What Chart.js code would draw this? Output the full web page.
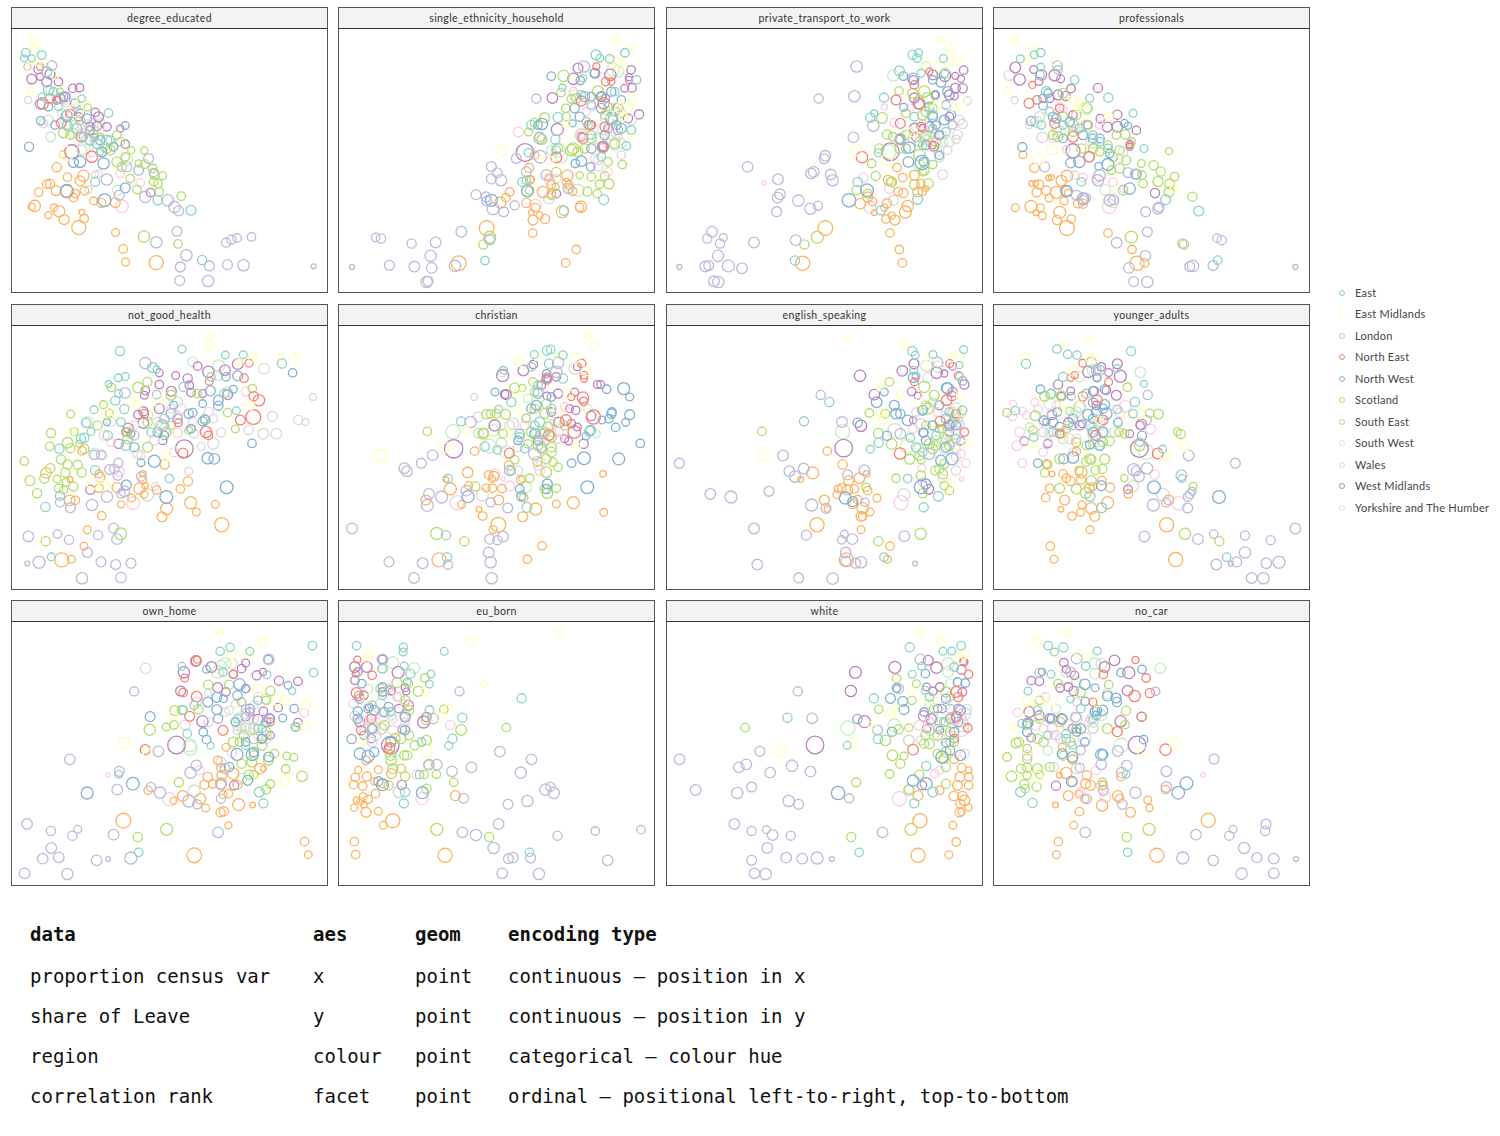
<!DOCTYPE html>
<html>
<head>
<meta charset="utf-8">
<title>Leave share by census variable</title>
<script src="https://cdn.jsdelivr.net/npm/chart.js@4"></script>
<style>
  html, body { margin: 0; padding: 0; background: #fff; }
  body { position: relative; width: 1500px; height: 1136px; overflow: hidden; }
  .strip { position: absolute; box-sizing: border-box; height: 21px; background: #f3f3f3; border: 1px solid #555; border-bottom: 0;
           font: 10.5px Lato, sans-serif; letter-spacing: 0.4px; color: #333; text-align: center; line-height: 21px; }
  .panel { position: absolute; box-sizing: border-box; border: 1px solid #555; border-top: 1px solid #333; background: #fff; }
  .panel canvas { position: absolute; left: -1px; top: -1px; display: block; }
  .legend-key { position: absolute; box-sizing: border-box; width: 6px; height: 6px; border-radius: 50%; border: 1px solid; }
  .legend-label { position: absolute; font: 11px Lato, sans-serif; letter-spacing: 0.25px; color: #444; line-height: 14px; white-space: nowrap; }
  .cell { position: absolute; font: 19px "DejaVu Sans Mono", monospace; color: #111; line-height: 24px; white-space: pre; }
</style>
</head>
<body>
<script>
// Regions and their colours (Set3)
const regions = ['East', 'East Midlands', 'London', 'North East', 'North West', 'Scotland', 'South East', 'South West', 'Wales', 'West Midlands', 'Yorkshire and The Humber'];
const regionKeys = ['E', 'EM', 'L', 'NE', 'NW', 'S', 'SE', 'SW', 'W', 'WM', 'YH'];
const regionColours = ['#8dd3c7', '#ffffb3', '#bebada', '#fb8072', '#80b1d3', '#fdb462', '#b3de69', '#fccde5', '#d9d9d9', '#bc80bd', '#ccebc5'];

const facetNames = ['degree_educated', 'single_ethnicity_household', 'private_transport_to_work', 'professionals', 'not_good_health', 'christian', 'english_speaking', 'younger_adults', 'own_home', 'eu_born', 'white', 'no_car'];

// Rows are [x reading, y reading, size reading], read per facet off the picture.
// Each facet has free scales, so the reading ranges differ (see facetXRange / facetYRange).
const degree_educated = {
  E: [[77,158,12],[125,165,12],[72,175,10],[95,175,10],[140,215,14],[145,270,14],[125,290,10],[325,339,12],[200,345,14],[160,275,12],[245,295,10],[230,385,14],[320,420,14],[285,545,13],[472,600,13],[572,630,14],[605,779,13],[270,420,14],[300,455,10],[200,375,13],[250,410,12],[290,430,14],[330,420,12],[175,320,11]],
  EM: [[98,120,10],[104,147,12],[90,271,10],[165,225,12],[110,185,10],[230,330,20],[245,300,14],[200,460,20],[135,190,12],[85,200,10]],
  L: [[155,197,14],[445,475,14],[415,510,14],[460,517,12],[320,538,16],[435,590,16],[502,600,16],[522,620,16],[535,632,14],[530,693,14],[468,726,16],[558,765,16],[540,800,14],[627,797,14],[681,793,14],[729,795,16],[538,841,14],[623,842,16],[677,727,13],[693,718,13],[710,713,12],[753,710,12],[939,798,7],[357,585,14],[380,500,14]],
  NE: [[128,310,16],[150,295,13],[120,200,10],[183,369,14],[243,410,14],[275,470,16],[210,340,12],[170,300,10]],
  NW: [[87,440,13],[375,376,11],[122,362,12],[120,312,14],[165,375,12],[240,485,16],[220,487,14],[310,490,16],[200,572,18],[313,600,18],[375,563,14],[145,320,12],[200,348,16],[170,300,12],[270,390,12],[305,455,14],[240,340,12],[190,290,12],[225,310,13],[260,355,13],[300,420,13],[340,440,12]],
  S: [[188,463,10],[170,501,13],[202,531,12],[250,527,16],[240,542,14],[140,552,12],[150,551,13],[168,571,14],[200,574,18],[225,580,12],[220,592,12],[253,572,12],[116,576,12],[95,620,10],[104,617,16],[162,622,10],[177,633,16],[145,645,10],[192,658,14],[245,636,8],[252,655,12],[236,682,20],[280,602,11],[303,608,13],[345,607,14],[346,697,11],[369,746,12],[376,785,11],[468,787,20]],
  SE: [[432,451,10],[415,490,10],[433,492,12],[457,505,12],[462,522,14],[487,527,11],[473,550,12],[460,545,12],[477,575,12],[410,568,12],[543,588,12],[431,709,16],[533,731,12],[350,485,14],[365,500,13],[393,450,10],[350,405,12],[360,425,12],[190,398,14],[262,322,10],[180,275,10],[330,450,14],[375,470,12],[390,535,12],[210,405,12],[300,410,10],[240,360,13],[280,400,12],[320,445,13]],
  SW: [[365,618,18],[420,548,12],[360,520,12],[260,370,10],[295,520,10],[230,320,10],[200,310,10],[275,460,10],[190,360,10],[280,425,10],[255,400,10],[215,340,11],[245,375,11],[300,395,11]],
  W: [[85,300,10],[152,410,14],[130,370,12],[145,360,14],[285,523,10],[265,568,10],[245,450,14],[220,375,12],[240,400,12],[185,340,12]],
  WM: [[83,200,10],[115,207,13],[95,237,14],[120,230,10],[150,222,14],[140,245,14],[238,263,12],[218,265,12],[180,295,14],[195,290,14],[285,337,12],[295,350,14],[290,378,13],[320,380,12],[283,412,10],[215,455,20],[375,432,12],[451,577,12],[360,385,10],[175,245,12],[235,350,12],[270,380,12]],
  YH: [[352,570,14],[205,380,14],[250,445,18],[380,478,16],[280,370,14],[240,340,12],[300,370,14],[200,300,12],[150,270,12],[220,400,14],[260,420,14],[310,440,13]]
};

const single_ethnicity_household = {
  E: [[774,80,14],[786,90,11],[815,92,12],[861,74,12],[896,155,12],[673,178,10],[735,150,10],[660,267,14],[580,290,13],[652,333,13],[655,365,12],[571,373,12],[553,460,13],[797,513,14],[441,695,12],[678,546,13],[565,455,12],[825,275,14],[865,352,12],[880,305,12],[730,200,12],[830,190,12],[760,320,12],[760,230,12],[810,235,12],[840,305,13],[790,385,12],[745,280,12]],
  EM: [[832,36,10],[878,62,12],[818,97,12],[838,100,12],[853,112,13],[491,365,16],[880,213,13],[868,237,16],[845,240,14],[880,320,12],[630,395,14],[685,285,12],[830,235,14],[855,265,12],[815,260,12]],
  L: [[738,115,16],[595,211,13],[535,390,14],[607,385,18],[460,414,14],[478,433,14],[460,451,14],[489,455,16],[414,498,14],[444,505,14],[446,517,14],[465,540,17],[497,549,14],[530,530,13],[565,430,14],[625,439,15],[370,609,15],[293,641,15],[221,644,13],[113,626,12],[129,629,13],[278,681,16],[154,709,14],[229,713,15],[281,717,15],[266,759,16],[270,757,14],[351,711,16],[42,714,7],[455,633,14],[690,480,14],[605,330,16]],
  NE: [[775,115,10],[803,160,12],[730,218,14],[797,225,16],[755,290,14],[800,295,13],[735,330,14],[655,387,15],[795,355,14],[820,160,10]],
  NW: [[640,144,12],[727,157,12],[771,135,14],[820,190,13],[740,205,14],[790,205,12],[710,240,13],[725,265,13],[612,287,16],[704,285,10],[820,270,16],[850,300,14],[795,355,16],[730,398,15],[712,405,12],[758,415,12],[568,488,16],[460,515,17],[600,290,12],[850,215,12],[790,240,14],[760,360,13],[830,250,13],[760,205,12],[800,320,13]],
  S: [[573,418,13],[575,455,12],[579,452,10],[590,380,12],[632,447,10],[640,468,12],[688,441,16],[686,462,12],[693,470,12],[615,490,16],[640,495,12],[704,488,12],[515,490,12],[504,507,12],[487,522,16],[565,523,13],[593,537,12],[580,552,8],[605,560,10],[585,574,14],[621,571,13],[673,549,17],[729,534,16],[725,536,12],[584,613,12],[446,598,21],[362,703,21],[683,702,12],[715,662,12]],
  SE: [[677,143,16],[669,193,12],[700,212,12],[780,190,16],[715,210,14],[683,240,12],[685,265,12],[620,268,14],[590,283,12],[572,311,11],[605,325,14],[612,333,14],[705,360,16],[720,370,14],[760,445,12],[725,440,10],[810,400,12],[853,408,12],[785,467,12],[813,466,14],[800,442,12],[748,489,13],[778,495,12],[655,430,13],[653,475,10],[575,485,12],[455,625,17],[436,647,13],[750,290,12],[830,345,14],[700,365,16],[660,360,13],[640,500,12],[760,330,13],[800,260,12],[850,255,12],[740,360,13]],
  SW: [[541,311,14],[708,200,14],[592,530,17],[635,455,14],[656,450,12],[810,430,12],[770,390,12],[780,415,12],[840,325,12],[800,270,12],[730,320,14],[760,235,12],[820,320,12],[790,360,12],[745,250,11]],
  W: [[633,510,15],[695,480,13],[640,365,14],[730,315,14],[780,330,16],[830,350,15],[780,395,13],[850,380,12],[880,275,14],[820,290,16],[835,315,14]],
  WM: [[720,120,14],[706,152,16],[770,135,12],[817,140,16],[879,125,12],[873,147,10],[873,155,10],[882,179,12],[860,180,11],[643,209,15],[790,205,14],[803,210,11],[870,270,13],[903,258,13],[658,303,17],[795,355,11],[655,495,12],[561,372,25],[730,325,12],[835,290,13],[840,240,14],[760,290,12],[810,300,12]],
  YH: [[840,130,16],[825,125,18],[660,365,20],[670,385,17],[720,485,17],[795,300,16],[730,320,18],[790,330,16],[850,345,14],[830,240,14],[455,630,16],[706,190,12]]
};

const private_transport_to_work = {
  E: [[740,80,13],[758,74,11],[753,90,12],[832,91,11],[700,128,14],[765,135,11],[654,208,13],[625,255,10],[613,268,13],[575,460,13],[637,373,11],[703,330,14],[387,695,13],[645,545,13],[755,512,14],[835,135,12],[800,260,13],[720,360,13],[800,300,12],[840,310,12],[770,350,12],[745,265,12]],
  EM: [[824,36,10],[852,62,12],[853,98,12],[877,99,11],[775,100,12],[570,365,16],[660,395,16],[888,238,15],[815,230,12],[860,235,11],[822,115,13],[740,310,14]],
  L: [[572,115,16],[565,204,16],[458,211,13],[562,327,15],[622,292,16],[478,382,15],[475,391,14],[245,415,15],[443,430,15],[435,435,15],[494,438,15],[500,455,16],[336,452,15],[342,497,15],[335,507,15],[397,516,16],[456,531,13],[433,540,16],[332,549,14],[138,609,15],[124,629,13],[172,626,11],[162,644,13],[264,641,15],[389,634,15],[156,681,16],[118,713,15],[128,710,14],[187,711,17],[228,718,15],[144,757,15],[157,759,16],[40,714,7],[860,290,12]],
  NE: [[690,215,14],[758,225,16],[703,285,14],[703,333,14],[588,386,16],[790,130,10],[745,170,12],[765,295,12],[800,350,10]],
  NW: [[712,144,12],[742,152,16],[800,155,12],[825,162,14],[845,190,14],[808,200,12],[713,237,11],[760,228,14],[800,265,14],[835,275,14],[855,260,13],[730,357,16],[727,400,15],[768,402,20],[772,400,12],[549,515,19],[603,485,18],[820,380,12],[700,333,12],[810,290,12],[780,350,13],[820,320,13],[840,230,12],[790,235,13]],
  S: [[693,417,12],[710,447,12],[745,440,14],[667,455,14],[765,465,12],[697,489,12],[712,493,13],[755,490,14],[769,488,12],[780,480,8],[583,525,15],[605,505,14],[620,519,12],[625,552,8],[663,524,13],[655,537,10],[677,561,10],[660,571,12],[687,574,14],[718,550,17],[725,532,16],[672,613,12],[700,662,12],[709,702,12],[478,598,21],[410,703,20]],
  SE: [[699,188,12],[740,195,14],[775,190,16],[785,210,16],[780,250,14],[648,269,15],[663,318,13],[680,325,12],[700,360,13],[720,360,13],[617,405,12],[629,442,13],[675,460,13],[677,460,14],[787,465,14],[572,484,13],[605,495,13],[770,430,12],[800,408,12],[775,425,14],[745,468,14],[454,625,17],[415,647,13],[640,360,13],[760,380,16],[780,320,14],[720,255,12],[770,260,14],[810,340,13],[720,320,13],[760,340,13],[800,240,13]],
  SW: [[655,236,9],[592,447,13],[295,463,6],[830,438,14],[685,283,12],[735,238,10],[670,480,14],[612,535,17],[770,290,14],[740,330,14],[800,340,12],[830,320,11]],
  W: [[905,217,11],[880,275,14],[890,287,13],[875,318,13],[870,333,12],[845,365,12],[682,515,14],[850,340,14],[790,325,14],[820,385,14],[775,330,14]],
  WM: [[742,155,12],[745,209,14],[800,140,14],[837,143,16],[868,143,10],[893,126,12],[885,152,10],[890,180,13],[868,180,14],[850,200,14],[865,203,11],[808,200,10],[745,300,14],[750,327,12],[803,353,14],[673,370,25],[850,265,12],[790,295,14],[820,320,12],[770,300,11]],
  YH: [[682,142,16],[780,115,13],[840,135,14],[670,370,20],[790,215,14],[780,335,14],[830,340,14],[760,410,16],[815,370,12],[800,310,14],[750,295,13]]
};

const professionals = {
  E: [[143,74,12],[124,80,11],[82,92,11],[143,117,11],[195,125,12],[245,155,12],[290,210,11],[346,208,13],[420,255,11],[453,360,11],[518,513,14],[617,547,14],[674,694,12],[265,460,12],[145,290,12],[140,140,13],[160,190,14],[320,340,12],[170,250,12],[210,290,12],[260,300,13],[300,320,12],[345,360,12]],
  EM: [[65,36,10],[121,64,12],[104,93,10],[187,100,13],[42,187,10],[177,365,15],[137,392,16],[545,478,12],[270,225,14],[240,215,12],[347,265,12],[255,240,10]],
  L: [[193,113,14],[155,415,14],[320,440,16],[315,455,16],[250,500,14],[350,515,16],[362,513,14],[278,508,14],[270,515,14],[495,540,15],[498,535,14],[458,549,14],[463,609,14],[371,642,15],[408,717,15],[457,681,15],[422,758,14],[463,759,16],[568,644,13],[672,628,12],[686,634,13],[600,711,16],[590,713,14],[660,710,14],[907,714,7],[427,437,14],[405,432,14]],
  NE: [[108,225,14],[132,215,12],[185,285,14],[240,325,15],[288,385,15],[118,170,10],[200,240,12],[410,350,10]],
  NW: [[88,356,13],[114,278,13],[165,195,12],[150,232,12],[210,330,12],[233,403,14],[259,400,16],[345,408,17],[317,413,11],[394,285,11],[405,292,10],[430,437,14],[410,480,16],[220,487,16],[270,510,16],[300,330,13],[350,375,12],[190,270,13],[180,265,13],[230,280,13],[270,320,13],[320,330,13],[150,210,12]],
  S: [[90,379,11],[124,418,13],[167,448,8],[175,446,8],[205,456,15],[222,442,16],[138,468,13],[128,465,8],[116,465,8],[160,486,13],[131,491,13],[190,491,17],[222,488,15],[225,492,10],[168,508,11],[213,517,11],[255,524,13],[270,525,13],[67,537,11],[114,533,17],[142,537,11],[129,552,8],[148,561,11],[200,551,17],[192,574,13],[235,571,12],[222,598,21],[345,613,12],[417,662,12],[455,702,12],[432,703,20]],
  SE: [[282,240,13],[250,260,13],[210,265,13],[210,195,14],[195,325,14],[345,350,12],[370,320,12],[397,318,13],[415,340,12],[380,365,13],[400,395,13],[445,405,11],[482,410,13],[503,429,13],[545,444,12],[447,440,12],[495,459,14],[530,466,14],[528,490,14],[528,368,10],[598,504,13],[450,465,12],[390,485,13],[415,625,17],[573,647,13],[355,425,12],[380,420,13],[300,360,13],[265,360,13],[180,320,13],[240,310,13],[280,290,14],[320,370,12],[360,385,13]],
  SW: [[270,447,12],[360,460,12],[392,480,11],[349,533,20],[200,235,12],[310,450,12],[380,390,12],[180,330,12],[320,290,12],[210,240,11],[250,300,11],[290,340,11]],
  W: [[65,216,10],[108,290,10],[148,327,15],[220,363,11],[245,440,12],[125,280,12],[140,265,14],[290,385,14],[240,290,14],[190,300,14]],
  WM: [[67,118,15],[80,154,16],[122,124,11],[145,140,15],[185,141,16],[203,152,11],[138,160,11],[234,181,12],[315,179,13],[218,203,13],[195,200,14],[373,259,13],[322,271,12],[343,296,14],[373,295,15],[430,306,12],[411,347,11],[240,367,20],[486,493,13],[285,290,12],[410,355,10],[170,210,12],[240,260,12]],
  YH: [[49,141,15],[337,484,15],[360,520,16],[280,240,18],[240,290,16],[300,345,14],[200,310,16],[130,280,16],[390,370,13]]
};

const not_good_health = {
  E: [[327,78,13],[513,72,11],[643,90,11],[697,89,11],[813,115,13],[322,158,11],[343,154,11],[293,176,9],[425,127,14],[437,133,10],[600,155,12],[323,205,11],[313,226,13],[249,253,11],[340,251,13],[518,185,13],[640,205,13],[676,256,11],[225,292,13],[240,318,11],[220,337,13],[145,370,13],[252,434,13],[475,459,12],[147,510,13],[103,544,13],[121,693,11],[420,320,12],[345,360,14],[290,330,13],[370,330,13],[460,280,13],[210,340,13],[330,290,12]],
  EM: [[594,36,10],[598,61,12],[725,97,12],[809,98,11],[852,99,13],[683,113,10],[182,320,12],[717,240,13],[360,230,12],[380,238,12],[285,265,12],[315,260,13],[440,225,16],[465,390,16],[245,475,16],[280,480,14],[430,300,12]],
  L: [[403,114,16],[342,203,15],[437,208,12],[270,388,13],[250,388,13],[322,412,13],[296,432,14],[310,430,13],[320,450,13],[288,513,16],[340,497,15],[330,505,12],[243,538,16],[178,546,14],[147,530,13],[52,632,15],[139,625,12],[174,642,13],[261,628,13],[308,607,14],[318,640,15],[229,680,14],[84,709,17],[49,713,7],[270,708,14],[314,716,14],[360,712,14],[213,757,16],[330,755,15],[480,265,14],[455,300,16],[390,453,13]],
  NE: [[714,114,11],[699,159,12],[595,168,11],[728,213,13],[744,225,16],[727,275,21],[688,284,14],[502,292,11],[585,320,16],[592,330,12],[516,383,14],[400,265,12]],
  NW: [[845,143,12],[680,152,14],[645,155,12],[598,197,14],[667,192,11],[622,225,14],[622,241,13],[488,240,11],[575,235,11],[533,265,13],[545,262,12],[583,283,13],[575,288,13],[288,290,10],[723,354,12],[430,407,17],[590,398,16],[610,400,15],[647,485,18],[466,514,18],[346,478,14],[390,412,11],[460,330,12],[370,365,13],[440,320,13],[500,280,13],[540,310,12]],
  S: [[105,442,15],[213,376,12],[264,445,11],[267,455,14],[177,462,8],[176,524,15],[193,524,12],[264,488,12],[318,486,14],[330,536,10],[362,517,11],[396,445,9],[395,462,12],[402,480,9],[385,489,16],[399,506,11],[437,493,12],[461,417,13],[508,490,12],[531,467,13],[467,549,17],[453,573,14],[539,531,17],[556,559,11],[613,536,11],[632,597,20],[272,570,12],[229,612,11],[219,661,11],[181,700,11],[152,702,20]],
  SE: [[409,170,13],[381,187,15],[301,187,12],[277,238,11],[179,266,11],[295,263,11],[120,323,13],[190,319,11],[116,363,12],[170,352,15],[178,368,13],[205,355,10],[150,402,13],[170,417,13],[200,418,13],[212,441,13],[163,441,13],[118,428,13],[100,459,13],[138,460,11],[57,465,14],[165,470,11],[187,483,13],[143,488,12],[158,493,11],[78,503,13],[40,407,12],[480,210,14],[558,205,12],[650,262,12],[533,315,11],[673,311,11],[724,190,12],[410,365,14],[350,340,14],[329,624,17],[104,646,13],[580,280,12],[465,320,14],[350,320,13],[410,290,13],[480,300,12],[220,370,13],[260,300,13]],
  SW: [[366,532,18],[500,322,13],[593,260,13],[705,198,13],[325,438,14],[390,390,12],[275,390,12],[430,345,13],[545,290,12],[510,250,14],[280,330,14],[300,350,12],[370,300,12],[500,270,12]],
  W: [[906,215,10],[862,284,13],[883,290,10],[784,273,14],[796,325,15],[757,325,15],[713,314,13],[630,321,13],[607,354,16],[571,363,11],[607,280,12],[533,437,11],[433,483,11],[410,508,17],[550,325,12],[490,380,13],[450,300,16],[440,290,14],[480,250,12]],
  WM: [[680,117,15],[642,135,15],[592,140,16],[560,123,12],[445,143,11],[494,151,11],[530,160,13],[535,180,12],[445,178,12],[540,202,12],[481,198,14],[403,196,12],[400,210,11],[445,250,14],[397,258,13],[381,268,12],[397,293,15],[352,308,14],[345,320,12],[360,326,11],[323,355,13],[520,370,25],[238,492,13],[650,208,14],[455,345,12],[575,205,11]],
  YH: [[545,110,14],[623,122,17],[759,131,15],[650,200,14],[230,290,15],[250,385,16],[480,265,14],[380,385,14],[500,230,14],[455,310,20],[620,150,14],[410,270,14],[300,290,13]]
};

const christian = {
  E: [[589,88,11],[627,76,13],[638,73,12],[675,90,12],[633,116,13],[580,125,12],[497,135,11],[675,160,13],[600,205,14],[520,230,13],[482,252,11],[369,288,13],[440,363,13],[478,373,12],[330,459,12],[520,435,12],[550,515,12],[567,545,14],[327,694,13],[605,290,14],[545,335,13],[755,318,14],[590,300,12],[640,250,13],[560,370,12],[600,180,12]],
  EM: [[750,35,10],[770,61,12],[597,95,11],[542,110,13],[712,100,14],[660,97,12],[745,138,13],[128,390,16],[318,365,16],[386,315,11],[715,365,12],[540,205,14],[690,205,14],[660,245,14],[540,250,12],[510,325,12]],
  L: [[660,113,16],[655,140,16],[398,290,16],[284,389,15],[250,413,14],[199,428,15],[207,437,15],[273,505,15],[311,514,17],[268,539,17],[42,608,15],[324,628,13],[153,708,14],[254,712,15],[330,716,13],[228,756,15],[452,680,15],[458,709,16],[461,757,16],[455,640,14],[478,643,13],[495,632,15],[509,547,14],[458,530,13],[515,435,15],[385,495,15],[590,385,17],[610,325,14],[600,200,14],[610,365,14]],
  NE: [[731,115,12],[738,150,11],[738,160,10],[626,163,13],[735,217,16],[737,228,12],[684,284,15],[766,275,20],[709,320,18],[633,329,15],[514,383,14],[700,215,10]],
  NW: [[471,200,11],[628,157,13],[806,192,12],[857,190,17],[875,215,11],[822,260,12],[820,265,13],[875,268,14],[792,284,11],[813,280,12],[863,291,11],[833,306,12],[907,354,12],[757,315,14],[744,332,11],[738,398,18],[842,400,17],[701,413,12],[748,485,18],[628,475,14],[626,490,13],[390,513,17],[545,490,12],[550,510,13],[595,240,14],[590,325,14],[545,325,13],[625,160,12],[580,250,13],[640,215,12],[600,345,13],[540,345,12]],
  S: [[410,377,12],[389,441,15],[324,462,8],[392,480,11],[337,490,17],[264,523,14],[371,536,11],[423,551,8],[434,571,12],[452,448,12],[468,452,14],[462,460,10],[445,487,11],[463,488,12],[492,489,12],[482,523,14],[547,463,11],[557,516,12],[554,573,14],[593,550,17],[655,535,11],[706,531,17],[795,445,9],[797,560,11],[481,597,21],[465,611,11],[303,702,20],[568,700,12],[612,660,12],[513,420,13]],
  SE: [[268,318,12],[379,646,13],[296,623,17],[530,188,14],[553,188,10],[585,170,12],[590,200,12],[445,267,13],[458,266,12],[495,325,12],[437,323,13],[435,325,15],[475,265,12],[565,278,12],[503,267,14],[625,235,13],[580,320,14],[570,355,12],[620,265,14],[630,305,14],[640,335,14],[640,365,14],[598,407,13],[625,400,14],[645,410,12],[660,425,12],[625,440,15],[575,458,12],[553,460,10],[530,403,12],[412,482,13],[655,488,12],[628,503,15],[620,490,13],[640,380,14],[600,360,14],[620,320,13],[590,250,13],[610,370,13],[680,300,13]],
  SW: [[357,531,20],[495,460,6],[515,481,14],[470,445,14],[605,435,14],[565,280,12],[660,320,14],[610,410,12],[680,245,12],[640,320,12],[560,300,12],[600,420,13]],
  W: [[408,215,10],[421,323,14],[433,508,17],[525,295,16],[515,300,14],[490,353,15],[540,365,13],[420,275,14],[540,435,13],[605,340,15],[620,325,14],[590,300,13],[660,340,12]],
  WM: [[556,136,15],[586,118,12],[718,125,11],[494,151,17],[505,208,14],[500,207,12],[625,145,11],[655,155,12],[778,178,11],[788,178,11],[710,200,11],[660,205,13],[627,212,11],[713,255,12],[695,250,11],[663,291,15],[760,272,13],[700,295,12],[718,305,11],[470,300,16],[692,347,11],[737,355,13],[347,370,26],[630,160,11],[610,180,12],[640,260,12],[680,340,11]],
  YH: [[493,140,14],[710,130,16],[345,319,20],[454,362,20],[505,380,18],[775,325,11],[750,250,12],[465,315,16],[640,300,16],[565,485,15],[595,325,13],[620,350,14],[570,220,13],[650,290,13]]
};

const english_speaking = {
  E: [[893,73,11],[739,78,13],[748,90,11],[801,88,11],[490,230,13],[414,288,13],[743,135,11],[880,153,10],[733,337,12],[638,352,13],[613,371,11],[750,365,13],[725,459,12],[817,512,14],[773,545,13],[654,694,12],[770,253,12],[880,120,10],[890,255,12],[810,330,12],[870,340,12],[850,260,12],[770,380,12]],
  EM: [[546,35,10],[718,61,12],[641,186,10],[703,210,11],[645,263,13],[652,282,13],[290,390,16],[612,362,12],[880,98,13],[855,98,12],[790,98,12],[853,475,13],[902,356,11],[885,210,13],[880,260,12],[760,230,12]],
  L: [[815,112,15],[464,209,13],[528,290,15],[703,325,15],[351,390,15],[790,385,16],[40,413,14],[370,437,15],[387,453,16],[413,429,15],[595,434,15],[545,448,14],[309,497,14],[133,505,15],[195,514,17],[437,538,17],[480,548,14],[597,530,12],[264,608,15],[421,628,14],[535,625,11],[527,642,12],[559,640,15],[715,631,15],[539,680,15],[274,716,15],[569,712,14],[585,709,16],[398,756,14],[500,758,16],[747,713,7],[540,705,14]],
  NE: [[851,115,11],[878,152,12],[745,170,11],[842,225,15],[858,212,13],[822,288,14],[895,320,12],[702,384,16],[870,265,12]],
  NW: [[655,200,11],[632,231,15],[685,240,14],[690,265,15],[703,265,13],[725,285,15],[575,292,13],[663,331,13],[773,322,12],[742,157,14],[750,153,11],[842,188,15],[845,190,16],[890,167,12],[825,405,15],[858,400,17],[840,365,14],[538,517,17],[560,528,14],[765,484,19],[780,475,14],[770,255,14],[850,300,14],[800,300,13],[840,280,13],[780,345,13],[870,300,13],[820,240,13]],
  S: [[484,377,12],[530,417,13],[440,442,17],[404,462,8],[602,445,9],[580,458,15],[548,465,14],[527,487,12],[517,490,11],[545,493,14],[565,490,12],[605,495,12],[513,507,11],[475,523,14],[484,550,9],[633,517,11],[575,522,12],[560,535,13],[590,548,16],[612,559,11],[585,572,14],[590,572,12],[585,612,11],[453,597,20],[672,661,12],[664,700,11],[541,702,20]],
  SE: [[670,170,12],[610,263,12],[658,265,12],[288,318,12],[637,324,14],[677,356,15],[731,401,14],[765,403,11],[775,185,16],[805,210,14],[780,240,12],[785,250,16],[780,300,12],[820,310,12],[800,370,14],[765,450,13],[690,458,12],[600,485,12],[808,435,13],[835,415,13],[830,445,14],[835,480,12],[850,495,12],[770,503,13],[637,646,13],[764,624,16],[810,360,13],[830,310,12],[870,270,14],[850,360,14],[800,300,13],[840,340,13],[790,355,14],[820,430,13],[760,390,13]],
  SW: [[705,531,20],[887,461,6],[900,413,12],[768,428,11],[830,460,12],[770,470,12],[750,260,12],[895,320,12],[870,395,13],[740,310,12],[885,385,12],[840,250,12],[860,350,12],[815,260,12]],
  W: [[714,507,17],[860,320,22],[870,290,20],[860,260,14],[885,265,12],[880,300,14],[870,435,13],[765,295,14],[835,370,14],[870,370,12],[855,300,15],[875,280,13],[845,330,14]],
  WM: [[582,152,16],[709,137,15],[744,116,14],[812,143,16],[860,123,11],[895,178,13],[625,208,15],[737,199,12],[755,211,10],[585,301,16],[741,285,10],[772,321,13],[533,368,25],[788,491,14],[885,347,11],[855,300,15],[860,200,13],[835,145,10],[860,290,13],[850,320,12]],
  YH: [[713,135,11],[782,122,16],[785,158,14],[530,319,20],[687,316,20],[724,362,20],[757,370,15],[815,125,16],[870,250,16],[810,345,14],[800,230,12],[850,280,14],[830,350,14]]
};

const younger_adults = {
  E: [[192,72,12],[224,88,12],[252,90,12],[414,78,13],[99,116,13],[372,130,11],[453,176,10],[210,155,13],[426,230,13],[67,256,12],[373,252,12],[420,265,12],[509,371,11],[326,546,14],[291,512,14],[701,694,12],[567,459,11],[122,335,12],[310,135,14],[175,205,13],[280,205,13],[240,300,12],[290,300,13],[180,320,12],[320,360,13]],
  EM: [[287,35,10],[213,61,13],[97,99,14],[289,98,12],[307,97,12],[240,137,13],[574,363,14],[515,390,14],[118,355,12],[403,280,14],[440,265,14],[205,250,12],[255,220,12],[320,285,12]],
  L: [[295,112,15],[464,209,13],[587,390,15],[727,413,14],[422,432,17],[430,436,14],[438,453,15],[462,428,16],[565,449,15],[598,497,11],[591,505,13],[585,513,13],[481,538,17],[519,530,13],[584,547,14],[454,632,15],[615,640,15],[662,625,12],[756,629,13],[833,643,13],[907,608,15],[756,680,16],[670,716,15],[731,708,14],[714,713,7],[820,712,15],[858,709,17],[776,756,15],[811,757,16],[440,350,12],[460,285,14],[320,135,14]],
  NE: [[269,114,11],[233,158,10],[245,150,10],[347,170,11],[270,213,13],[312,225,15],[330,284,14],[308,330,14],[494,384,15],[200,325,12]],
  NW: [[142,192,12],[312,157,11],[235,213,11],[303,197,13],[335,192,13],[335,238,14],[300,232,13],[153,285,13],[193,260,12],[285,268,15],[340,265,16],[375,291,12],[447,331,13],[134,413,12],[212,400,14],[240,396,16],[290,358,12],[320,360,14],[483,485,18],[678,514,18],[325,480,14],[330,320,14],[160,290,10],[300,280,13],[180,290,13],[240,280,13],[330,250,13],[310,260,14],[300,320,14]],
  S: [[164,417,12],[177,445,8],[210,445,12],[220,458,12],[232,466,13],[265,440,16],[264,462,13],[327,465,12],[351,486,13],[289,488,14],[300,483,11],[170,488,12],[158,516,12],[215,523,14],[204,551,8],[237,571,12],[263,560,11],[267,537,11],[295,548,16],[305,572,14],[344,531,17],[291,612,11],[172,661,12],[183,700,11],[406,505,12],[527,523,14],[521,597,20],[548,701,20],[250,378,12]],
  SE: [[403,186,12],[155,213,14],[172,207,13],[205,212,14],[42,262,12],[127,271,14],[230,258,11],[120,315,12],[205,325,12],[160,415,12],[155,442,12],[200,488,14],[258,435,12],[250,490,14],[278,502,15],[295,465,14],[308,433,13],[328,430,13],[335,401,14],[295,402,13],[280,408,13],[378,320,12],[395,325,12],[350,347,13],[470,264,12],[496,266,14],[553,319,11],[563,326,13],[600,482,11],[394,458,10],[576,624,16],[679,646,13],[440,360,15],[280,360,12],[250,350,13],[290,400,14],[200,400,14],[330,350,13],[220,310,12]],
  SW: [[60,235,10],[125,231,11],[88,257,11],[58,272,13],[80,320,14],[72,361,14],[88,413,12],[397,243,16],[380,262,13],[473,311,14],[135,252,12],[485,447,13],[557,533,19],[150,380,12],[230,340,14],[175,265,13],[150,290,12],[190,240,12],[250,340,13],[100,270,11]],
  W: [[150,320,13],[300,310,16],[320,290,16],[510,507,18],[300,355,14],[165,350,12],[225,300,12],[260,245,14],[240,380,12],[190,320,12],[320,300,14],[300,330,14],[170,320,13]],
  WM: [[373,116,14],[382,153,17],[195,178,13],[233,197,11],[325,125,12],[347,142,11],[286,140,16],[312,158,11],[340,195,12],[370,210,14],[205,213,11],[177,269,13],[227,292,14],[268,295,11],[200,305,13],[445,297,15],[442,300,12],[410,325,11],[94,347,12],[164,355,12],[405,491,12],[439,369,25],[300,198,13],[310,240,12],[260,300,13]],
  YH: [[442,141,15],[260,155,14],[170,235,16],[260,245,18],[460,380,21],[420,482,16],[320,285,16],[365,320,14],[110,305,12],[300,135,16],[205,210,12],[250,260,15],[210,340,14]]
};

const own_home = {
  E: [[532,76,12],[508,88,12],[580,88,11],[732,71,12],[735,152,12],[415,133,11],[622,158,11],[683,207,10],[445,250,12],[418,264,12],[428,335,12],[485,371,10],[613,544,13],[603,510,14],[262,457,11],[310,691,12],[515,150,12],[600,320,12],[690,315,12],[550,290,12],[610,320,12],[570,370,12],[600,235,12]],
  EM: [[508,33,10],[613,60,12],[573,95,11],[535,97,13],[275,363,15],[646,235,14],[665,235,13],[716,248,12],[665,474,13],[395,280,12],[715,312,12],[330,390,12],[600,200,14]],
  L: [[626,112,15],[299,208,13],[358,388,15],[143,412,15],[263,448,14],[258,503,15],[340,495,13],[362,512,16],[436,452,16],[450,430,15],[432,537,17],[452,547,13],[510,530,13],[503,631,15],[39,606,15],[97,627,13],[162,622,11],[149,641,13],[249,638,15],[98,678,15],[77,710,15],[116,706,15],[208,715,15],[236,711,7],[291,708,17],[33,754,15],[137,756,16],[570,260,12],[510,485,16],[520,440,14]],
  NE: [[450,116,14],[452,113,10],[422,168,11],[418,212,12],[451,224,15],[434,283,14],[326,383,14],[515,325,14],[630,300,11],[540,157,11]],
  NW: [[475,142,11],[540,157,12],[555,187,16],[500,226,14],[478,240,14],[516,230,11],[500,263,14],[503,290,13],[338,284,14],[467,330,12],[688,260,12],[660,288,11],[627,290,14],[673,190,11],[570,200,12],[625,113,12],[475,353,12],[549,397,17],[586,398,17],[626,405,14],[570,360,12],[296,485,18],[185,513,17],[575,475,14],[530,435,13],[610,350,12],[550,220,13],[580,260,13],[545,300,12],[620,300,13],[590,390,13]],
  S: [[522,376,11],[502,415,12],[510,438,12],[540,455,16],[605,440,15],[613,440,8],[478,465,13],[470,488,13],[490,486,12],[512,460,14],[515,518,11],[528,515,12],[510,488,14],[333,505,12],[395,536,10],[417,522,15],[460,530,15],[473,558,11],[509,571,13],[517,568,13],[553,548,17],[587,549,8],[528,610,10],[273,596,21],[445,700,21],[713,659,12],[722,698,11],[550,488,13]],
  SE: [[398,266,14],[415,264,13],[377,315,11],[396,309,12],[337,323,16],[479,188,13],[455,262,13],[530,188,13],[630,207,13],[620,235,12],[590,350,14],[540,360,14],[670,402,11],[687,406,11],[667,441,12],[707,463,15],[630,486,12],[620,502,13],[590,458,12],[578,458,13],[585,420,14],[560,425,13],[555,360,12],[408,481,13],[378,622,17],[308,645,13],[693,315,12],[640,395,12],[625,415,14],[565,340,13],[610,370,14],[620,330,13],[590,400,13],[560,240,12]],
  SW: [[712,272,12],[423,309,14],[450,240,14],[235,459,6],[536,392,13],[458,445,13],[385,532,19],[600,225,13],[560,240,12],[520,270,12],[590,250,12],[545,245,11],[610,290,12]],
  W: [[445,507,17],[478,212,10],[570,320,16],[560,285,15],[590,320,16],[620,350,14],[570,275,14],[510,485,14],[550,325,12],[480,300,13],[510,420,14],[580,320,15],[600,340,13],[560,320,13]],
  WM: [[449,117,15],[420,151,16],[487,135,15],[570,123,11],[560,140,12],[597,160,13],[612,150,10],[651,176,13],[697,178,12],[502,197,14],[412,207,14],[465,298,16],[522,210,12],[570,200,11],[649,257,12],[613,268,12],[600,293,15],[697,302,12],[609,350,13],[402,369,25],[542,490,13],[570,284,12],[630,290,12],[580,270,12],[630,340,11]],
  YH: [[327,139,15],[520,125,17],[537,125,15],[502,150,17],[620,230,14],[435,378,20],[434,370,18],[570,310,15],[560,470,15],[620,340,14],[530,265,12],[550,310,14],[590,290,13],[510,130,14]]
};

const eu_born = {
  E: [[842,71,12],[956,76,12],[955,90,11],[1055,88,11],[958,132,11],[1023,156,11],[1019,186,11],[1243,229,13],[1019,264,12],[1099,287,13],[1075,350,13],[1066,371,11],[973,155,13],[1262,691,12],[957,544,13],[960,510,13],[995,458,12],[905,140,12],[1000,360,12],[905,220,12],[925,270,12],[880,250,12],[965,180,11]],
  EM: [[1332,33,10],[1119,60,12],[1150,184,10],[875,97,13],[868,110,12],[1065,262,14],[1012,388,16],[855,355,12],[870,230,13],[1010,208,12],[1045,285,12]],
  L: [[905,112,15],[1092,208,13],[1028,290,15],[1190,389,15],[1267,412,15],[1241,452,16],[1121,436,15],[1074,448,15],[1018,428,15],[1037,428,15],[1301,503,16],[1313,494,13],[1321,513,16],[1257,537,16],[1210,547,14],[1102,529,14],[1187,606,15],[1099,631,15],[1132,639,16],[1330,641,13],[1422,627,12],[1533,623,12],[1175,678,16],[1211,710,14],[1222,707,15],[1265,708,14],[1452,715,15],[1196,754,15],[1285,756,16]],
  NE: [[844,113,10],[880,160,12],[842,213,15],[848,222,13],[840,155,10],[878,290,13],[922,378,15],[853,325,13],[920,375,9]],
  NW: [[830,351,13],[855,185,12],[905,195,12],[885,265,14],[845,268,13],[870,260,12],[850,395,16],[870,403,17],[885,390,13],[1002,512,17],[905,488,17],[895,478,13],[925,360,14],[960,325,13],[920,255,13],[960,285,14],[845,150,12],[850,230,13],[880,320,13],[910,270,13],[860,340,12],[845,290,13]],
  S: [[846,444,10],[839,466,12],[867,463,13],[835,488,12],[857,492,12],[888,515,12],[895,443,11],[927,455,14],[885,478,10],[905,485,12],[858,524,11],[870,532,12],[842,534,9],[852,538,10],[860,548,9],[836,557,10],[865,571,14],[895,568,11],[930,596,20],[907,610,11],[837,659,12],[840,698,12],[1057,700,20],[1082,521,14],[865,415,12]],
  SE: [[1206,317,12],[1037,622,17],[1164,645,13],[1054,262,12],[1096,324,15],[1012,355,14],[983,370,13],[1008,168,12],[968,185,12],[940,182,14],[992,208,14],[961,235,13],[969,265,14],[926,415,15],[930,440,14],[950,440,12],[960,463,13],[920,490,13],[1017,428,13],[1006,458,12],[1036,457,12],[1078,481,12],[1012,500,13],[958,400,13],[965,400,13],[935,350,15],[1010,295,12],[910,310,13],[950,350,14],[925,400,14],[970,340,13],[900,200,13]],
  SW: [[1070,309,13],[1001,530,17],[988,457,13],[950,440,13],[930,325,14],[860,330,14],[905,270,14],[960,245,12],[940,225,12],[890,300,12],[930,290,12],[960,300,12]],
  W: [[835,245,13],[838,282,14],[880,315,20],[900,320,16],[880,360,14],[945,510,16],[920,200,12],[960,320,14],[860,300,12],[870,295,14],[890,340,13],[905,320,15],[880,280,14]],
  WM: [[838,135,15],[838,175,12],[867,135,15],[943,151,17],[905,112,12],[925,205,13],[960,197,11],[963,208,10],[968,250,14],[1005,300,17],[1012,285,13],[850,300,14],[873,255,11],[878,350,12],[953,322,12],[924,370,25],[952,489,13],[928,208,10],[860,220,12],[905,210,12],[945,260,12]],
  YH: [[930,122,17],[982,138,15],[905,140,14],[925,385,20],[945,225,14],[885,320,15],[900,245,14],[945,510,16],[960,280,15],[870,200,13],[925,280,14]]
};

const white = {
  E: [[592,76,13],[717,71,12],[673,88,11],[694,87,11],[621,133,11],[598,157,11],[505,229,13],[295,287,13],[630,205,11],[440,370,11],[515,351,13],[469,691,12],[603,544,13],[648,510,14],[632,432,13],[675,300,12],[700,135,12],[640,225,12],[690,260,12],[660,320,12],[690,360,11]],
  EM: [[614,33,10],[669,60,12],[725,97,13],[715,110,13],[457,363,15],[280,388,15],[597,208,12],[630,230,12],[545,275,14],[560,262,13],[650,235,12],[500,310,11]],
  L: [[618,112,15],[320,208,13],[355,289,15],[228,388,14],[33,412,15],[177,436,15],[195,427,15],[253,452,15],[306,431,16],[351,449,15],[72,504,15],[173,513,16],[208,495,14],[298,537,16],[322,547,14],[445,529,13],[514,324,14],[166,606,15],[208,627,13],[244,623,11],[259,639,15],[303,641,13],[526,631,15],[246,678,15],[208,715,14],[292,707,15],[331,710,15],[367,708,17],[403,711,7],[215,754,15],[242,756,16],[565,200,14]],
  NE: [[705,210,15],[710,225,13],[735,157,12],[722,118,10],[705,283,14],[600,383,15],[733,318,12],[700,350,12]],
  NW: [[630,155,12],[560,198,12],[545,229,14],[575,238,14],[578,263,14],[465,291,13],[549,329,13],[627,270,12],[708,180,12],[727,183,12],[710,300,13],[680,362,12],[670,405,17],[715,400,15],[418,513,19],[600,476,16],[632,485,17],[560,200,11],[715,265,14],[680,230,13],[700,330,13],[660,260,12],[690,385,13]],
  S: [[700,412,12],[718,437,12],[735,444,9],[714,465,14],[735,465,12],[735,490,12],[708,490,14],[665,505,12],[699,522,13],[612,521,14],[720,522,13],[725,535,15],[735,557,10],[715,545,13],[713,571,13],[617,596,20],[697,610,11],[705,660,12],[687,698,11],[612,700,20],[718,570,10]],
  SE: [[560,170,12],[608,185,11],[680,210,14],[597,235,12],[517,262,12],[192,317,12],[590,317,11],[565,322,13],[533,355,15],[627,365,13],[640,365,14],[550,400,15],[578,402,11],[569,425,13],[543,456,12],[462,481,13],[615,458,13],[680,435,13],[680,485,13],[590,502,13],[595,622,17],[450,645,13],[650,260,12],[680,300,13],[700,360,12],[675,410,14],[660,340,14],[680,390,14],[660,395,13],[690,330,13],[630,340,13]],
  SW: [[567,530,20],[615,310,14],[652,455,12],[720,290,12],[725,395,13],[670,350,12],[665,445,12],[640,300,12],[700,320,12],[680,250,12]],
  W: [[718,322,20],[725,275,18],[730,262,14],[590,505,15],[640,325,14],[620,355,13],[590,355,15],[720,300,15],[690,225,12],[720,310,18],[715,265,15],[690,340,13]],
  WM: [[460,151,17],[556,136,17],[657,137,16],[637,115,14],[449,207,16],[633,195,11],[648,208,12],[665,195,12],[718,143,13],[724,120,11],[482,299,17],[626,282,15],[644,291,15],[633,320,12],[622,490,13],[362,369,25],[705,288,13],[665,325,11],[710,260,13],[690,290,13],[670,260,12],[720,210,12]],
  YH: [[442,318,20],[555,310,18],[685,125,17],[590,355,15],[685,150,15],[590,505,14],[650,290,14],[690,185,13],[665,300,14],[640,245,13]]
};

const no_car = {
  E: [[931,71,12],[968,76,13],[1050,87,11],[946,90,11],[910,152,13],[938,157,11],[882,207,11],[1022,132,12],[868,305,12],[1124,691,12],[893,543,13],[864,510,14],[1120,457,11],[990,370,11],[975,335,12],[1010,260,12],[985,232,10],[905,265,12],[930,340,12],[975,350,12],[1040,290,12]],
  EM: [[976,33,10],[905,60,12],[950,95,12],[1005,98,12],[1027,98,13],[1160,390,14],[1238,363,15],[845,316,12],[880,237,12],[908,240,14],[940,235,14],[875,265,12],[905,465,15],[1050,240,13]],
  L: [[1000,110,15],[1192,208,12],[1334,411,14],[1100,387,15],[1010,385,13],[1218,448,15],[1122,431,15],[1060,427,15],[1110,452,15],[1008,437,13],[1218,495,15],[1143,512,16],[1065,505,14],[1111,547,14],[1025,531,13],[1021,631,15],[1460,606,14],[1458,627,13],[1380,622,11],[1371,641,13],[1290,638,15],[1407,678,16],[1258,708,17],[1332,715,15],[1438,707,14],[1479,710,15],[1533,711,7],[1401,755,16],[1479,754,15],[998,285,14],[985,150,14]],
  NE: [[1143,114,10],[1169,168,12],[1178,213,13],[1141,222,16],[1099,329,14],[1158,284,13],[1216,383,16],[1065,158,12],[1040,240,11]],
  NW: [[1108,152,12],[1159,142,12],[1045,197,11],[1020,187,15],[1075,222,14],[1096,228,14],[1098,240,13],[1021,238,12],[1045,268,14],[1063,265,15],[1048,280,12],[1163,353,12],[1158,284,13],[1060,398,16],[1064,398,14],[990,405,15],[988,478,15],[1267,484,18],[1247,512,18],[1020,360,12],[965,291,13],[935,288,12],[880,305,12],[1010,320,14],[880,330,13],[935,290,13],[1000,330,12],[1050,265,13],[965,395,14]],
  S: [[965,376,11],[990,412,13],[975,453,16],[958,460,8],[1025,460,13],[1022,485,14],[1034,490,14],[1065,490,12],[990,480,13],[1108,464,12],[980,521,14],[1006,516,11],[1020,530,12],[1100,522,15],[1104,530,12],[1173,534,11],[1177,558,10],[1062,550,16],[1007,569,12],[1131,571,14],[949,549,8],[993,610,11],[1216,503,12],[1320,595,20],[956,659,12],[951,698,11],[1195,700,20]],
  SE: [[1078,188,12],[1120,266,13],[1118,308,12],[878,310,12],[831,405,12],[853,363,14],[880,380,12],[920,360,13],[968,401,13],[865,440,13],[880,437,13],[905,440,14],[935,435,13],[842,463,15],[880,460,12],[910,458,11],[873,487,13],[875,500,12],[903,494,13],[1063,481,12],[1176,622,17],[1122,645,13],[910,235,12],[955,185,12],[1010,210,14],[1075,320,14],[1000,320,13],[910,290,13],[905,350,13],[880,410,13],[960,300,13],[860,360,13],[985,360,13]],
  SW: [[856,272,12],[1010,510,12],[1070,525,15],[1047,445,12],[1307,459,6],[880,400,14],[940,320,14],[1000,240,12],[925,225,12],[880,330,12],[920,320,12],[945,340,12],[1030,300,12]],
  W: [[1000,290,16],[1040,320,14],[1020,350,18],[950,340,14],[980,310,16],[1075,215,14],[1060,490,14],[945,435,13],[1000,440,15],[1035,290,14],[960,350,13],[1045,270,14]],
  WM: [[969,122,12],[975,142,11],[1068,135,15],[1092,115,15],[1127,152,17],[995,160,12],[890,176,12],[916,150,10],[910,178,12],[1124,206,15],[960,198,12],[980,195,12],[993,207,13],[1107,298,16],[964,291,15],[885,270,15],[882,303,14],[890,347,12],[1147,369,25],[950,491,13],[1000,320,12],[910,280,13],[940,290,13],[990,320,12]],
  YH: [[1203,139,15],[1045,125,16],[1060,125,15],[1045,155,15],[1108,370,20],[1040,318,14],[930,385,13],[975,150,15],[1060,280,15],[900,310,14],[1000,180,14],[1040,300,15],[950,260,13]]
};

const facetData = [degree_educated, single_ethnicity_household, private_transport_to_work, professionals, not_good_health, christian, english_speaking, younger_adults, own_home, eu_born, white, no_car];

// Reading ranges of the free scales
const facetXRange = [[33,982],[0,951],[0,951],[0,951],[0,951],[0,951],[0,951],[0,951],[0,770],[797,1567],[0,770],[797,1567]];
const facetYRange = [[84,878],[0,792],[0,792],[0,792],[0,792],[0,792],[0,792],[0,792],[-3,792],[-3,792],[-3,792],[-3,792]];

// Explanation table under the chart
const tableHeader = ['data', 'aes', 'geom', 'encoding type'];
const tableRows = [
  ['proportion census var', 'x', 'point', 'continuous – position in x'],
  ['share of Leave', 'y', 'point', 'continuous – position in y'],
  ['region', 'colour', 'point', 'categorical – colour hue'],
  ['correlation rank', 'facet', 'point', 'ordinal – positional left-to-right, top-to-bottom']
];

// Page layout
const panelLefts = [11, 338, 666, 993];
const panelWidth = 317;
const panelHeight = 265;
const stripTops = [7, 304, 600];
const legendY = [293, 314, 336, 357, 379, 400, 422, 443, 465, 486, 508];
const tableX = [30, 313, 415, 508];
const tableY = [934, 976, 1016, 1056, 1096];

function sizeToRadius(size) {
  return size / 3 * 1.06;
}

function addDiv(className, left, top, text) {
  const div = document.createElement('div');
  div.className = className;
  div.style.left = left + 'px';
  div.style.top = top + 'px';
  if (text) div.textContent = text;
  document.body.appendChild(div);
  return div;
}

function drawFacet(i) {
  const col = i % 4;
  const row = Math.floor(i / 4);
  const left = panelLefts[col];
  const top = stripTops[row];

  const strip = addDiv('strip', left, top, facetNames[i]);
  strip.style.width = panelWidth + 'px';

  const panel = addDiv('panel', left, top + 21);
  panel.style.width = panelWidth + 'px';
  panel.style.height = panelHeight + 'px';

  const canvas = document.createElement('canvas');
  canvas.width = panelWidth;
  canvas.height = panelHeight;
  canvas.style.width = panelWidth + 'px';
  canvas.style.height = panelHeight + 'px';
  panel.appendChild(canvas);

  const datasets = regionKeys.map((key, r) => ({
    label: regions[r],
    data: facetData[i][key].map(p => ({ x: p[0], y: p[1], r: sizeToRadius(p[2]) })),
    borderColor: regionColours[r],
    backgroundColor: 'transparent',
    borderWidth: 1.3,
    hoverBorderWidth: 1.3
  }));

  new Chart(canvas.getContext('2d'), {
    type: 'bubble',
    data: { datasets: datasets },
    options: {
      responsive: false,
      animation: false,
      layout: { padding: 0, autoPadding: false },
      events: [],
      plugins: { legend: { display: false }, tooltip: { enabled: false } },
      scales: {
        x: { type: 'linear', display: false, min: facetXRange[i][0], max: facetXRange[i][1] },
        y: { type: 'linear', display: false, reverse: true, min: facetYRange[i][0], max: facetYRange[i][1] }
      }
    }
  });
}

function drawLegend() {
  regions.forEach((name, r) => {
    const key = addDiv('legend-key', 1339, legendY[r] - 3);
    key.style.borderColor = regionColours[r];
    addDiv('legend-label', 1355, legendY[r] - 7, name);
  });
}

function drawTable() {
  tableHeader.forEach((text, c) => {
    const cell = addDiv('cell', tableX[c], tableY[0] - 12, text);
    cell.style.fontWeight = 'bold';
  });
  tableRows.forEach((cells, r) => {
    cells.forEach((text, c) => {
      addDiv('cell', tableX[c], tableY[r + 1] - 12, text);
    });
  });
}

facetNames.forEach((name, i) => drawFacet(i));
drawLegend();
drawTable();
</script>
</body>
</html>
